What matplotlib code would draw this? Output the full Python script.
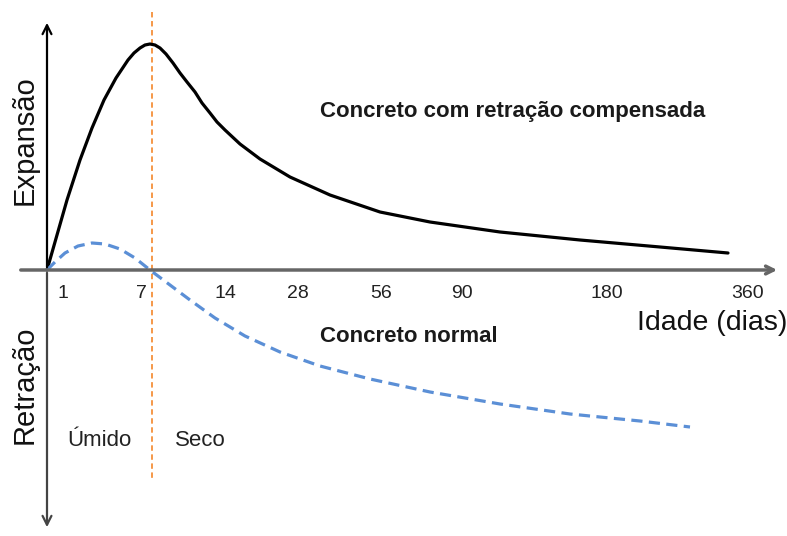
import matplotlib
matplotlib.use('Agg')
import matplotlib.pyplot as plt
import numpy as np

plt.rcParams['font.family'] = ['Liberation Sans', 'DejaVu Sans']

# posicoes dos ticks no eixo x (esquematico) e rotulos
tick_pos = [16, 94, 178, 251, 334, 415, 560, 701]
tick_lab = ['1', '7', '14', '28', '56', '90', '180', '360']

# concreto com retracao compensada (x, y esquematicos)
comp_x = [0, 10, 20, 33, 45, 57, 69, 75, 81, 87, 93, 98, 103, 108, 113, 119, 126, 133, 140, 148, 155, 163,
          170, 178, 193, 213, 243, 283, 333, 383, 453, 533, 613, 681]
comp_y = [0, 35, 70, 110, 142, 170, 192, 201, 210, 217, 222, 225, 226, 225, 222, 216, 207, 197, 188, 178, 167, 157,
          148, 140, 126, 111, 93, 75, 58, 48, 38, 30, 23, 17]

# concreto normal
norm_x = [0, 8, 18, 31, 45, 58, 73, 88, 103, 123, 143, 168, 198, 233, 273, 323, 383, 453, 523, 593, 643]
norm_y = [0, 8, 17, 24, 27, 26, 21, 12, 0, -15, -30, -48, -66, -82, -96, -109, -122, -134, -144, -151, -157]

fig = plt.figure(figsize=(7.87, 5.36), dpi=100)
ax = fig.add_axes([0, 0, 1, 1])
ax.set_xlim(-47, 740)
ax.set_ylim(-266, 270)
ax.axis('off')

# eixos
ax.annotate('', xy=(733, 0), xytext=(-29, 0),
            arrowprops=dict(arrowstyle='->', color='#666666', lw=2.5, mutation_scale=14))
ax.annotate('', xy=(0, 250), xytext=(0, 0),
            arrowprops=dict(arrowstyle='->', color='black', lw=1.6, mutation_scale=16))
ax.annotate('', xy=(0, -260), xytext=(0, 0),
            arrowprops=dict(arrowstyle='->', color='#444444', lw=1.6, mutation_scale=16))

# linha umido/seco
ax.plot([105, 105], [258, -208], color='#F4903A', lw=1.3, ls=(0, (3, 2)))

ax.plot(comp_x, comp_y, color='black', lw=2.3, solid_capstyle='round', solid_joinstyle='round')
ax.plot(norm_x, norm_y, color='#5B8FD6', lw=2.3, ls=(0, (3.5, 2)))

for p, l in zip(tick_pos, tick_lab):
    ax.text(p, -23, l, ha='center', va='center', fontsize=14, color='#222222')

ax.text(740, -53, 'Idade (dias)', ha='right', va='center', fontsize=20.5, color='#111111')
ax.text(-22, 130, 'Expansão', rotation=90, ha='center', va='center', fontsize=21, color='#111111')
ax.text(-22, -115, 'Retração', rotation=90, ha='center', va='center', fontsize=21, color='#111111')

ax.text(273, 159, 'Concreto com retração compensada', ha='left', va='center',
        fontsize=16, fontweight='bold', color='#1a1a1a')
ax.text(273, -67, 'Concreto normal', ha='left', va='center',
        fontsize=16, fontweight='bold', color='#1a1a1a')
ax.text(52, -171, 'Úmido', ha='center', va='center', fontsize=16, color='#222222')
ax.text(153, -171, 'Seco', ha='center', va='center', fontsize=16, color='#222222')

fig.savefig('out.png', dpi=100)
